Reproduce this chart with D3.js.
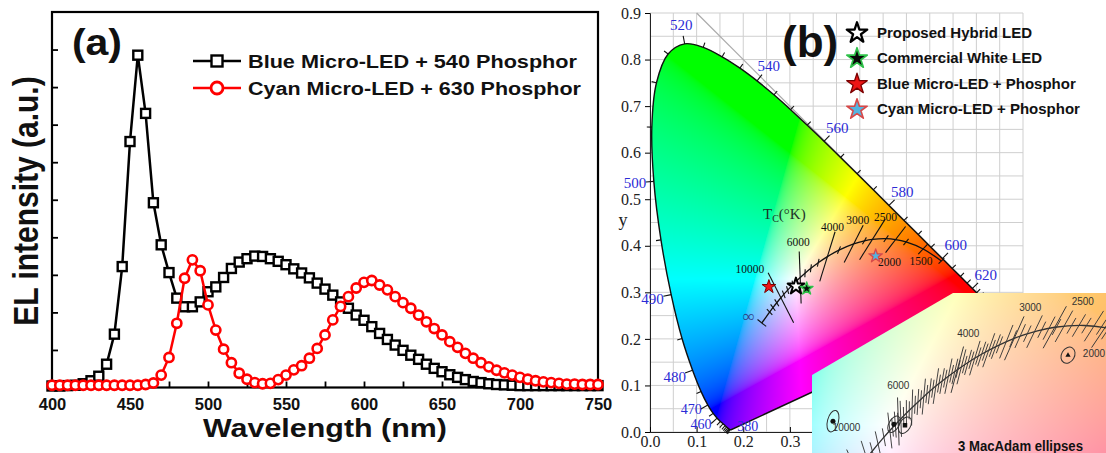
<!DOCTYPE html>
<html>
<head>
<meta charset="utf-8">
<script src="https://cdn.jsdelivr.net/npm/d3@7"></script>
<style>
  body { margin: 0; background: #fff; }
  svg { display: block; }
</style>
</head>
<body>
<svg id="chart" width="1106" height="453"></svg>
<script>
// ---------- (a) EL spectra, 5 nm steps ----------
const wavelengths = d3.range(400, 751, 5);
const blue540 = [
  0.004, 0.004, 0.005, 0.006, 0.010, 0.018, 0.030, 0.062, 0.142, 0.322,
  0.655, 0.885, 0.730, 0.492, 0.380, 0.306, 0.238, 0.215, 0.215, 0.228,
  0.255, 0.268, 0.293, 0.317, 0.334, 0.343, 0.350, 0.349, 0.343, 0.336,
  0.327, 0.316, 0.305, 0.292, 0.278, 0.262, 0.246, 0.228, 0.211, 0.193,
  0.179, 0.162, 0.144, 0.128, 0.113, 0.099, 0.086, 0.075, 0.062, 0.051,
  0.042, 0.034, 0.027, 0.021, 0.016, 0.013, 0.010, 0.008, 0.007, 0.006,
  0.005, 0.005, 0.005, 0.005, 0.005, 0.005, 0.005, 0.005, 0.005, 0.005,
  0.005
];
const cyan630 = [
  0.006, 0.006, 0.006, 0.006, 0.006, 0.006, 0.006, 0.006, 0.006, 0.006,
  0.006, 0.006, 0.008, 0.012, 0.033, 0.080, 0.171, 0.291, 0.340, 0.311,
  0.220, 0.153, 0.102, 0.066, 0.038, 0.022, 0.013, 0.010, 0.011, 0.021,
  0.033, 0.047, 0.058, 0.078, 0.104, 0.140, 0.180, 0.216, 0.242, 0.265,
  0.280, 0.285, 0.273, 0.260, 0.242, 0.226, 0.211, 0.193, 0.175, 0.157,
  0.140, 0.122, 0.107, 0.091, 0.078, 0.066, 0.055, 0.046, 0.039, 0.033,
  0.027, 0.022, 0.018, 0.015, 0.013, 0.011, 0.009, 0.009, 0.008, 0.008,
  0.008
];
const wlTicks = d3.range(400, 751, 25);
const seriesNames = ['Blue Micro-LED + 540 Phosphor', 'Cyan Micro-LED + 630 Phosphor'];

// ---------- (b) CIE 1931 diagram ----------
// spectral locus: [nm, x, y]
const cieLocus = [
  [380,0.1741,0.0050],[385,0.1740,0.0050],[390,0.1738,0.0049],[395,0.1736,0.0049],
  [400,0.1733,0.0048],[405,0.1730,0.0048],[410,0.1726,0.0048],[415,0.1721,0.0048],
  [420,0.1714,0.0051],[425,0.1703,0.0058],[430,0.1689,0.0069],[435,0.1669,0.0086],
  [440,0.1644,0.0109],[445,0.1611,0.0138],[450,0.1566,0.0177],[455,0.1510,0.0227],
  [460,0.1440,0.0297],[465,0.1355,0.0399],[470,0.1241,0.0578],[475,0.1096,0.0868],
  [480,0.0913,0.1327],[485,0.0687,0.2007],[490,0.0454,0.2950],[495,0.0235,0.4127],
  [500,0.0082,0.5384],[505,0.0039,0.6548],[510,0.0139,0.7502],[515,0.0389,0.8120],
  [520,0.0743,0.8338],[525,0.1142,0.8262],[530,0.1547,0.8059],[535,0.1929,0.7816],
  [540,0.2296,0.7543],[545,0.2658,0.7243],[550,0.3016,0.6923],[555,0.3373,0.6589],
  [560,0.3731,0.6245],[565,0.4087,0.5896],[570,0.4441,0.5547],[575,0.4788,0.5202],
  [580,0.5125,0.4866],[585,0.5448,0.4544],[590,0.5752,0.4242],[595,0.6029,0.3965],
  [600,0.6270,0.3725],[605,0.6482,0.3514],[610,0.6658,0.3340],[615,0.6801,0.3197],
  [620,0.6915,0.3083],[625,0.7006,0.2993],[630,0.7079,0.2920],[635,0.7140,0.2859],
  [640,0.7190,0.2809],[645,0.7230,0.2770],[650,0.7260,0.2740],[655,0.7283,0.2717],
  [660,0.7300,0.2700],[665,0.7311,0.2689],[670,0.7320,0.2680],[680,0.7334,0.2666],
  [690,0.7344,0.2656],[700,0.7347,0.2653]
];
const spectralLabels = [380, 460, 470, 480, 490, 500, 520, 540, 560, 580, 600, 620];
// Planckian locus: [K, x, y]
const planck = [
  [Infinity,0.2399,0.2342],[20000,0.2565,0.2577],[15000,0.2637,0.2673],[12000,0.2719,0.2776],
  [10000,0.2807,0.2883],[9000,0.2869,0.2956],[8000,0.2952,0.3048],[7000,0.3064,0.3166],
  [6500,0.3135,0.3237],[6000,0.3221,0.3318],[5500,0.3325,0.3411],[5000,0.3451,0.3516],
  [4500,0.3608,0.3636],[4000,0.3805,0.3768],[3500,0.4053,0.3907],[3000,0.4369,0.4041],
  [2700,0.4599,0.4106],[2500,0.4770,0.4137],[2200,0.5063,0.4152],[2000,0.5267,0.4133],
  [1800,0.5491,0.4082],[1500,0.5857,0.3931],[1200,0.6251,0.3674]
];
const isoTemps = [10000, 6000, 4000, 3000, 2500, 2000, 1500];
const insetTemps = [10000, 6000, 4000, 3000, 2500, 2000];
const ledNames = ['Proposed Hybrid LED', 'Commercial White LED', 'Blue Micro-LED + Phosphor', 'Cyan Micro-LED + Phosphor'];
const ledPoints = [[0.313, 0.313], [0.336, 0.308], [0.255, 0.312], [0.484, 0.378]];
const macAdamCentres = [[0.2574, 0.332], [0.3178, 0.3294], [0.3287, 0.3285], [0.4901, 0.3894]];
const yTicksB = d3.range(0, 0.91, 0.1);
const xTicksB = [0, 0.1, 0.2, 0.3];

// ---------- shared ----------
const sans = '"Liberation Sans", Arial, Helvetica, sans-serif';
const serif = '"Liberation Serif", "Times New Roman", serif';
const svg = d3.select('#chart');

function drawPanelA () {
  const x = d3.scaleLinear().domain([400, 750]).range([52, 598]);
  const y = d3.scaleLinear().domain([0, 1]).range([387.5, 12]);
  const g = svg.append('g');

  g.append('g')
    .attr('transform', `translate(0,${y(0)})`)
    .call(d3.axisBottom(x).tickValues(wlTicks).tickSize(-6).tickPadding(11)
      .tickFormat(d => d % 50 === 0 ? d : ''))
    .call(a => a.select('.domain').remove())
    .call(a => a.selectAll('line').attr('stroke', '#000').attr('stroke-width', 1.8))
    .call(a => a.selectAll('text').attr('font-family', sans).attr('font-weight', 'bold')
      .attr('font-size', 16.5).attr('fill', '#111'));

  g.append('g')
    .attr('transform', `translate(${x(400)},0)`)
    .call(d3.axisLeft(y).tickValues(d3.range(1, 10).map(i => i / 10)).tickSize(-6).tickFormat(''))
    .call(a => a.select('.domain').remove())
    .call(a => a.selectAll('line').attr('stroke', '#000').attr('stroke-width', 1.8));

  g.append('rect')
    .attr('x', x(400)).attr('y', y(1))
    .attr('width', x(750) - x(400)).attr('height', y(0) - y(1))
    .attr('fill', 'none').attr('stroke', '#000').attr('stroke-width', 2.2);

  const blueData = wavelengths.map((w, i) => ({ w, v: blue540[i] }));
  const cyanData = wavelengths.map((w, i) => ({ w, v: cyan630[i] }));
  const line = d3.line().x(d => x(d.w)).y(d => y(d.v));

  g.append('path').datum(blueData).attr('d', line)
    .attr('fill', 'none').attr('stroke', '#000').attr('stroke-width', 2.5);
  g.selectAll('rect.sq').data(blueData).join('rect').attr('class', 'sq')
    .attr('x', d => x(d.w) - 4.5).attr('y', d => y(d.v) - 4.5)
    .attr('width', 9).attr('height', 9)
    .attr('fill', '#fff').attr('stroke', '#000').attr('stroke-width', 2.4);

  g.append('path').datum(cyanData).attr('d', line)
    .attr('fill', 'none').attr('stroke', '#f00').attr('stroke-width', 2.5);
  g.selectAll('circle.ci').data(cyanData).join('circle').attr('class', 'ci')
    .attr('cx', d => x(d.w)).attr('cy', d => y(d.v)).attr('r', 4.6)
    .attr('fill', '#fff').attr('stroke', '#f00').attr('stroke-width', 2.6);

  // legend
  const legWidths = [329, 333];
  seriesNames.forEach((name, i) => {
    const ly = 61 + i * 27;
    const col = i === 0 ? '#000' : '#f00';
    g.append('line').attr('x1', 193).attr('x2', 241).attr('y1', ly).attr('y2', ly)
      .attr('stroke', col).attr('stroke-width', 2.6);
    if (i === 0) {
      g.append('rect').attr('x', 211.5).attr('y', ly - 5.5).attr('width', 11).attr('height', 11)
        .attr('fill', '#fff').attr('stroke', '#000').attr('stroke-width', 2.4);
    } else {
      g.append('circle').attr('cx', 217).attr('cy', ly).attr('r', 6)
        .attr('fill', '#fff').attr('stroke', '#f00').attr('stroke-width', 2.8);
    }
    g.append('text').attr('x', 248).attr('y', ly + 6.5)
      .attr('font-family', sans).attr('font-weight', 'bold').attr('font-size', 18)
      .attr('textLength', legWidths[i]).attr('lengthAdjust', 'spacingAndGlyphs')
      .attr('fill', '#111').text(name);
  });

  g.append('text').attr('x', 72).attr('y', 55)
    .attr('font-family', sans).attr('font-weight', 'bold').attr('font-size', 36)
    .attr('textLength', 50).attr('lengthAdjust', 'spacingAndGlyphs')
    .attr('fill', '#111').text('(a)');

  g.append('text')
    .attr('transform', 'translate(25.5,201) scale(1.17,1) rotate(-90)')
    .attr('text-anchor', 'middle').attr('dy', '0.36em')
    .attr('font-family', sans).attr('font-weight', 'bold').attr('font-size', 30)
    .attr('fill', '#111').text('EL intensity (a.u.)');

  g.append('text').attr('x', 325).attr('y', 437).attr('text-anchor', 'middle')
    .attr('font-family', sans).attr('font-weight', 'bold').attr('font-size', 26)
    .attr('textLength', 244).attr('lengthAdjust', 'spacingAndGlyphs')
    .attr('fill', '#111').text('Wavelength (nm)');
}

// chromaticity -> display colour
function chromaColor (x, y, wash) {
  const X = x / y, Z = (1 - x - y) / y;
  let r = Math.max(0, 3.2406 * X - 1.5372 - 0.4986 * Z);
  let gg = Math.max(0, -0.9689 * X + 1.8758 + 0.0415 * Z);
  let b = Math.max(0, 0.0557 * X - 0.2040 + 1.0570 * Z);
  const m = Math.max(r, gg, b) || 1;
  const enc = c => { c /= m; return c <= 0.0031308 ? 12.92 * c : 1.055 * Math.pow(c, 1 / 2.4) - 0.055; };
  return [enc(r), enc(gg), enc(b)].map(c => Math.round(255 * (c + (1 - c) * wash)));
}

function paintChroma (w, h, toChroma, wash) {
  const cv = document.createElement('canvas');
  cv.width = w; cv.height = h;
  const ctx = cv.getContext('2d');
  const img = ctx.createImageData(w, h);
  for (let j = 0; j < h; j++) {
    for (let i = 0; i < w; i++) {
      const [cx, cy] = toChroma(i + 0.5, j + 0.5);
      const k = (j * w + i) * 4;
      if (cy <= 0.002) continue;
      const c = chromaColor(cx, cy, wash);
      img.data[k] = c[0]; img.data[k + 1] = c[1]; img.data[k + 2] = c[2]; img.data[k + 3] = 255;
    }
  }
  ctx.putImageData(img, 0, 0);
  return cv.toDataURL();
}

// isotemperature segment, perpendicular to the locus in CIE 1960 uv
const toUV = (x, y) => { const d = -2 * x + 12 * y + 3; return [4 * x / d, 6 * y / d]; };
const fromUV = (u, v) => { const d = 2 * u - 8 * v + 4; return [3 * u / d, 2 * v / d]; };
function isoLine (sx, sy, p, q, len) {
  const a = toUV(p[0], p[1]), b = toUV(q[0], q[1]);
  const tl = Math.hypot(b[0] - a[0], b[1] - a[1]);
  const e = fromUV(a[0] - (b[1] - a[1]) / tl * 0.004, a[1] + (b[0] - a[0]) / tl * 0.004);
  let dx = sx(e[0]) - sx(p[0]), dy = sy(e[1]) - sy(p[1]);
  const dl = Math.hypot(dx, dy); dx /= dl; dy /= dl;
  if (dy > 0) { dx = -dx; dy = -dy; } // first end is the upper one
  const cx = sx(p[0]), cy = sy(p[1]);
  return [[cx + dx * len / 2, cy + dy * len / 2], [cx - dx * len / 2, cy - dy * len / 2]];
}
const planckAt = T => planck.findIndex(d => d[0] === T);
const neighbour = i => planck[i + 1] || planck[i - 1];

function drawPanelB () {
  const x = d3.scaleLinear().domain([0, 0.8]).range([650, 1023]);
  const y = d3.scaleLinear().domain([0, 0.9]).range([432, 13]);
  const g = svg.append('g');

  // grid
  g.selectAll('line.gx').data(d3.range(0, 0.801, 0.05)).join('line').attr('class', 'gx')
    .attr('x1', d => x(d)).attr('x2', d => x(d)).attr('y1', y(0)).attr('y2', y(0.9))
    .attr('stroke', '#cfcfcf').attr('stroke-width', 1);
  g.selectAll('line.gy').data(d3.range(0, 0.901, 0.05)).join('line').attr('class', 'gy')
    .attr('x1', x(0)).attr('x2', x(0.8)).attr('y1', d => y(d)).attr('y2', d => y(d))
    .attr('stroke', '#cfcfcf').attr('stroke-width', 1);
  g.append('line').attr('x1', x(0.1)).attr('y1', y(0.9)).attr('x2', x(0.75)).attr('y2', y(0.25))
    .attr('stroke', '#aaa').attr('stroke-width', 1.2);

  // axes
  g.append('g').attr('transform', `translate(${x(0)},0)`)
    .call(d3.axisLeft(y).tickValues(yTicksB).tickSize(5).tickPadding(4).tickFormat(d3.format('.1f')))
    .call(a => a.select('.domain').attr('stroke', '#222'))
    .call(a => a.selectAll('text').attr('font-family', serif).attr('font-size', 16).attr('fill', '#222'));
  g.append('g').attr('transform', `translate(0,${y(0)})`)
    .call(d3.axisBottom(x).tickValues(xTicksB).tickSize(-5).tickPadding(4).tickFormat(d3.format('.1f')))
    .call(a => a.select('.domain').attr('stroke', '#222'))
    .call(a => a.selectAll('text').attr('font-family', serif).attr('font-size', 16).attr('fill', '#222'));
  g.append('text').attr('x', 623).attr('y', 226).attr('text-anchor', 'middle')
    .attr('font-family', serif).attr('font-size', 18).attr('fill', '#222').text('y');

  // colour fill
  const locusLine = d3.line().x(d => x(d[1])).y(d => y(d[2])).curve(d3.curveCatmullRom);
  const locusD = locusLine(cieLocus) + 'Z';
  svg.append('defs').append('clipPath').attr('id', 'locusClip').append('path').attr('d', locusD);
  const w = Math.round(x(0.8) - x(0)), h = Math.round(y(0) - y(0.9));
  const url = paintChroma(w, h, (i, j) => [x.invert(x(0) + i), y.invert(y(0.9) + j)], 0);
  g.append('image').attr('x', x(0)).attr('y', y(0.9)).attr('width', w).attr('height', h)
    .attr('href', url).attr('clip-path', 'url(#locusClip)');
  g.append('path').attr('d', locusD).attr('fill', 'none').attr('stroke', '#111').attr('stroke-width', 1.4);

  // wavelength ticks and labels
  const cx0 = x(0.33), cy0 = y(0.33);
  const labelNudge = { 470: [0, -5], 460: [-2, -1] };
  cieLocus.forEach((d, i) => {
    const p = cieLocus[Math.max(i - 1, 0)], n = cieLocus[Math.min(i + 1, cieLocus.length - 1)];
    const tx = x(n[1]) - x(p[1]), ty = y(n[2]) - y(p[2]);
    const tl = Math.hypot(tx, ty);
    const px = x(d[1]), py = y(d[2]);
    const labelled = spectralLabels.includes(d[0]);
    if (d[0] === 380) {
      g.append('text').attr('x', px + 6).attr('y', py + 1).attr('font-family', serif)
        .attr('font-size', 14).attr('fill', '#2b2bd6').text(d[0]);
      return;
    }
    if (tl < 0.6) return;
    let nx = ty / tl, ny = -tx / tl;
    if (nx * (px - cx0) + ny * (py - cy0) < 0) { nx = -nx; ny = -ny; }
    const len = labelled ? 8 : 5;
    g.append('line').attr('x1', px).attr('y1', py).attr('x2', px + nx * len).attr('y2', py + ny * len)
      .attr('stroke', '#111').attr('stroke-width', 1.1);
    if (labelled) {
      const nd = labelNudge[d[0]] || [0, 0];
      const lx = px + nx * 19 + nd[0], ly = Math.min(py + ny * 19, 425) + nd[1];
      g.append('text').attr('x', lx).attr('y', ly).attr('dy', '0.35em')
        .attr('text-anchor', 'middle').attr('font-family', serif).attr('font-size', d[0] < 480 ? 14 : 15)
        .attr('fill', '#2b2bd6').text(d[0]);
    }
  });

  // Planckian locus
  const pLine = d3.line().x(d => x(d[1])).y(d => y(d[2])).curve(d3.curveCatmullRom);
  g.append('path').attr('d', pLine(planck)).attr('fill', 'none').attr('stroke', '#111').attr('stroke-width', 1.3);
  const isoLen = { 10000: 56, 6000: 52, 4000: 52, 3000: 42, 2500: 48, 2000: 33, 1500: 14 };
  const isoLabelOffset = { 10000: [-31, -29], 6000: [-2, -36], 4000: [5, -30], 3000: [4, -24], 2500: [13, -22], 2000: [-6, 22], 1500: [-2, 12] };
  planck.forEach((d, i) => {
    const isLong = isoTemps.includes(d[0]);
    const len = d[0] === Infinity ? 11 : isLong ? isoLen[d[0]] : 8;
    const seg = isoLine(x, y, [d[1], d[2]], [neighbour(i)[1], neighbour(i)[2]], len);
    g.append('line').attr('x1', seg[0][0]).attr('y1', seg[0][1]).attr('x2', seg[1][0]).attr('y2', seg[1][1])
      .attr('stroke', '#111').attr('stroke-width', 1.1);
    if (isLong) {
      const o = isoLabelOffset[d[0]];
      g.append('text').attr('x', x(d[1]) + o[0]).attr('y', y(d[2]) + o[1] + 4).attr('text-anchor', 'middle')
        .attr('font-family', serif).attr('font-size', 11.5).attr('fill', '#111').text(d[0]);
    }
  });
  g.append('text').attr('x', x(planck[0][1]) - 13).attr('y', y(planck[0][2]) - 1)
    .attr('text-anchor', 'middle').attr('font-family', serif).attr('font-size', 17)
    .attr('fill', '#33448a').text('\u221e');
  const tc = g.append('text').attr('x', 763).attr('y', 219).attr('font-family', serif)
    .attr('font-size', 15).attr('fill', '#1d3327');
  tc.append('tspan').text('T');
  tc.append('tspan').attr('font-size', 10).attr('dy', 3).text('C');
  tc.append('tspan').attr('dy', -3).text('(\u00b0K)');

  // LED points
  const starStyle = [
    { fill: '#fff', stroke: '#000', sw: 2, size: 85 },
    { fill: '#0a0a0a', stroke: '#2fc24a', sw: 1.4, size: 50 },
    { fill: '#ee1515', stroke: '#7a0000', sw: 1, size: 58 },
    { fill: '#55b4e0', stroke: '#d84848', sw: 1.3, size: 58 }
  ];
  const star = d3.symbol().type(d3.symbolStar);
  [2, 3, 0, 1].forEach(i => {
    g.append('path').attr('d', star.size(starStyle[i].size)())
      .attr('transform', `translate(${x(ledPoints[i][0])},${y(ledPoints[i][1])})`)
      .attr('fill', starStyle[i].fill).attr('stroke', starStyle[i].stroke)
      .attr('stroke-width', starStyle[i].sw).attr('stroke-linejoin', 'round');
  });

  // legend
  ledNames.forEach((name, i) => {
    const ly = 32 + i * 25.5;
    g.append('path').attr('d', star.size(130)())
      .attr('transform', `translate(857,${ly + 1})`)
      .attr('fill', starStyle[i].fill).attr('stroke', starStyle[i].stroke)
      .attr('stroke-width', starStyle[i].sw + 0.3).attr('stroke-linejoin', 'round');
    g.append('text').attr('x', 877).attr('y', ly + 5.5)
      .attr('font-family', sans).attr('font-weight', 'bold').attr('font-size', 15)
      .attr('fill', '#111').text(name);
  });
  g.append('text').attr('x', 782).attr('y', 57)
    .attr('font-family', sans).attr('font-weight', 'bold').attr('font-size', 44)
    .attr('fill', '#111').text('(b)');
}

function drawInset () {
  const x = d3.scaleLinear().domain([0.25, 0.55]).range([573 + 0.25 * 1010, 573 + 0.55 * 1010]);
  const y = d3.scaleLinear().domain([0.28, 0.45]).range([803 - 0.28 * 1150, 803 - 0.45 * 1150]);
  const box = [[812, 375], [953, 293], [1106, 293], [1106, 453], [812, 453]];
  svg.select('defs').append('clipPath').attr('id', 'insetClip')
    .append('polygon').attr('points', box.map(p => p.join(',')).join(' '));
  const g = svg.append('g').attr('clip-path', 'url(#insetClip)');
  const url = paintChroma(294, 160, (i, j) => [x.invert(812 + i), y.invert(293 + j)], 0.42);
  g.append('image').attr('x', 812).attr('y', 293).attr('width', 294).attr('height', 160).attr('href', url);

  const pLine = d3.line().x(d => x(d[1])).y(d => y(d[2])).curve(d3.curveCatmullRom);
  const path = g.append('path').attr('d', pLine(planck)).attr('fill', 'none')
    .attr('stroke', '#333').attr('stroke-width', 1.3);

  // dense isotemperature hatching along the locus
  const node = path.node();
  const total = node.getTotalLength();
  let last = -1e9, count = 0;
  for (let L = 0; L < total - 1; L += 0.5) {
    const pt = node.getPointAtLength(L);
    if (pt.x < 812 || pt.x > 1110 || pt.y > 480) continue;
    const gap = pt.x < 890 ? 9 : pt.x < 1000 ? 3.6 : 7.5;
    if (L - last < gap) continue;
    last = L; count++;
    const pt2 = node.getPointAtLength(L + 1);
    const seg = isoLine(x, y, [x.invert(pt.x), y.invert(pt.y)], [x.invert(pt2.x), y.invert(pt2.y)],
      count % 4 === 0 ? 36 : count % 2 === 0 ? 26 : 18);
    g.append('line').attr('x1', seg[0][0]).attr('y1', seg[0][1]).attr('x2', seg[1][0]).attr('y2', seg[1][1])
      .attr('stroke', '#3a3a3a').attr('stroke-width', 0.95);
  }
  const insetLabelOffset = { 10000: [-10, -44], 6000: [0, -36], 4000: [11, -36], 3000: [16, -31], 2500: [28, -26], 2000: [-11, 26] };
  insetTemps.forEach(T => {
    const i = planckAt(T), d = planck[i], q = neighbour(i);
    const seg = isoLine(x, y, [d[1], d[2]], [q[1], q[2]], 48);
    g.append('line').attr('x1', seg[0][0]).attr('y1', seg[0][1]).attr('x2', seg[1][0]).attr('y2', seg[1][1])
      .attr('stroke', '#3a3a3a').attr('stroke-width', 1);
    const o = insetLabelOffset[T];
    g.append('text').attr('x', x(d[1]) + o[0]).attr('y', y(d[2]) + o[1] + 3.5).attr('text-anchor', 'middle')
      .attr('font-family', sans).attr('font-size', 10).attr('fill', '#333').text(T);
  });

  // MacAdam ellipses and markers
  const ellipseStyle = [
    { rx: 5.5, ry: 11, rot: 15, mark: 'dot' },
    { rx: 5, ry: 9, rot: 30, mark: 'dot' },
    { rx: 5.5, ry: 9, rot: 30, mark: 'square' },
    { rx: 6.5, ry: 8.5, rot: 30, mark: 'triangle' }
  ];
  macAdamCentres.forEach((c, i) => {
    const s = ellipseStyle[i], cx = x(c[0]), cy = y(c[1]);
    g.append('ellipse').attr('cx', 0).attr('cy', 0).attr('rx', s.rx).attr('ry', s.ry)
      .attr('transform', `translate(${cx},${cy}) rotate(${s.rot})`)
      .attr('fill', 'none').attr('stroke', '#333').attr('stroke-width', 1);
    const sym = s.mark === 'dot' ? d3.symbolCircle : s.mark === 'square' ? d3.symbolSquare : d3.symbolTriangle;
    g.append('path').attr('d', d3.symbol().type(sym).size(s.mark === 'triangle' ? 12 : 20)())
      .attr('transform', `translate(${cx},${cy})`).attr('fill', '#111');
  });

  g.append('text').attr('x', 958).attr('y', 451)
    .attr('font-family', sans).attr('font-weight', 'bold').attr('font-size', 14)
    .attr('textLength', 125).attr('lengthAdjust', 'spacingAndGlyphs')
    .attr('fill', '#111').text('3 MacAdam ellipses');
}

drawPanelA();
drawPanelB();
drawInset();
</script>
</body>
</html>
